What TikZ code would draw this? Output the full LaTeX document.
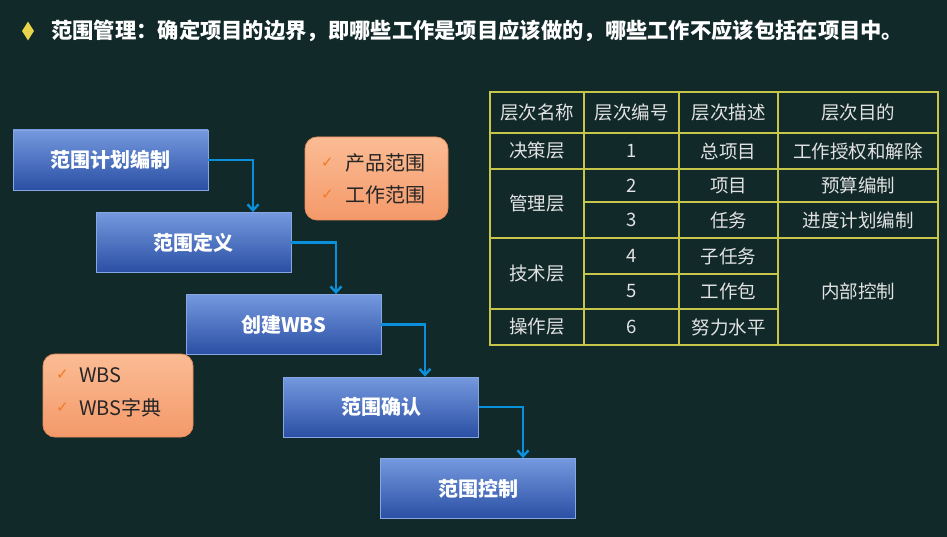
\documentclass[tikz,border=0pt]{standalone}
\usepackage{fontspec}
\setmainfont{Noto Sans CJK SC}
\newfontfamily\symfont{DejaVu Sans}
\usetikzlibrary{arrows.meta,shapes.geometric}
\definecolor{bg}{HTML}{12292A}
\definecolor{arrblue}{HTML}{0A90DA}
\definecolor{tline}{HTML}{C8C64A}
\definecolor{ttext}{HTML}{E2E2E2}
\definecolor{boxtop}{HTML}{7599DE}
\definecolor{boxbot}{HTML}{2A4FA4}
\definecolor{boxline}{HTML}{86A6E4}
\definecolor{ortop}{HTML}{FBBC94}
\definecolor{orbot}{HTML}{F4996A}
\definecolor{orline}{HTML}{E88C5C}
\definecolor{chk}{HTML}{F07A22}
\definecolor{diam}{HTML}{E8D44A}
\tikzset{
  stepbox/.style={draw=boxline, line width=0.8pt, top color=boxtop, bottom color=boxbot,
    minimum width=195pt, minimum height=60pt, inner sep=0pt,
    text=white, font=\fontsize{20}{24}\selectfont\bfseries},
  arr/.style={draw=arrblue, line width=2.6pt, -{Straight Barb[length=6pt,width=11pt,line width=2.4pt]}},
  notebox/.style={draw=orline, line width=0.8pt, top color=ortop, bottom color=orbot,
    rounded corners=12pt, inner sep=0pt},
  notetext/.style={anchor=west, inner sep=0pt, text=black!85, font=\fontsize{20}{24}\selectfont},
  chkmark/.style={anchor=west, inner sep=0pt, text=chk, font=\symfont\fontsize{15}{17}\selectfont},
  tcell/.style={inner sep=0pt, text=ttext, font=\fontsize{18.5}{22}\selectfont},
  tl/.style={draw=tline, line width=1.6pt}
}
\begin{document}
\begin{tikzpicture}[x=1pt,y=-1pt]
\fill[bg] (0,0) rectangle (947,537);
\useasboundingbox (0,0) rectangle (947,537);
% title
\node[diamond, fill=diam, minimum width=12pt, minimum height=19pt, inner sep=0pt] (dia) at (28,31) {};
\node[anchor=west, inner sep=0pt, text=white, font=\fontsize{21.3}{25}\selectfont\bfseries] (title) at (51,31)
  {范围管理：确定项目的边界，即哪些工作是项目应该做的，哪些工作不应该包括在项目中。};
% process boxes
\node[stepbox] (b1) at (110.5,160) {范围计划编制};
\node[stepbox] (b2) at (193.5,242.5) {范围定义};
\node[stepbox] (b3) at (283.5,324.5) {创建WBS};
\node[stepbox] (b4) at (381,407) {范围确认};
\node[stepbox] (b5) at (478,488.5) {范围控制};
\draw[arr] (b1.east) -| ([xshift=59.5pt]b2.north);
\draw[arr] (b2.east) -| ([xshift=52.5pt]b3.north);
\draw[arr] (b3.east) -| ([xshift=44pt]b4.north);
\draw[arr] (b4.east) -| ([xshift=45pt]b5.north);
% note boxes
\node[notebox, minimum width=143pt, minimum height=83pt] (n1) at (376.5,178.5) {};
\node[chkmark] (c1) at (321,163) {✓};
\node[notetext] (t1) at (345,163) {产品范围};
\node[chkmark] (c2) at (321,195) {✓};
\node[notetext] (t2) at (345,195) {工作范围};
\node[notebox, minimum width=150pt, minimum height=83pt] (n2) at (118,395.5) {};
\node[chkmark] (c3) at (56,375) {✓};
\node[notetext] (t3) at (79,375) {WBS};
\node[chkmark] (c4) at (56,408) {✓};
\node[notetext] (t4) at (79,408) {WBS字典};
% table
\draw[tl] (490,92) rectangle (938,345);
\draw[tl] (584,92) -- (584,345);
\draw[tl] (679,92) -- (679,345);
\draw[tl] (778,92) -- (778,345);
\draw[tl] (490,133) -- (938,133);
\draw[tl] (490,169) -- (938,169);
\draw[tl] (584,202) -- (938,202);
\draw[tl] (490,238) -- (938,238);
\draw[tl] (584,274) -- (778,274);
\draw[tl] (490,309) -- (778,309);
\node[tcell] (h1) at (537,112.5) {层次名称};
\node[tcell] (h2) at (631.5,112.5) {层次编号};
\node[tcell] (h3) at (728.5,112.5) {层次描述};
\node[tcell] (h4) at (858,112.5) {层次目的};
\node[tcell] (r1a) at (537,151) {决策层};
\node[tcell] (r1b) at (631.5,151) {1};
\node[tcell] (r1c) at (728.5,151) {总项目};
\node[tcell] (r1d) at (858,151) {工作授权和解除};
\node[tcell] (r2a) at (537,203.5) {管理层};
\node[tcell] (r2b) at (631.5,185.5) {2};
\node[tcell] (r2c) at (728.5,185.5) {项目};
\node[tcell] (r2d) at (858,185.5) {预算编制};
\node[tcell] (r3b) at (631.5,220) {3};
\node[tcell] (r3c) at (728.5,220) {任务};
\node[tcell] (r3d) at (858,220) {进度计划编制};
\node[tcell] (r4a) at (537,273.5) {技术层};
\node[tcell] (r4b) at (631.5,256) {4};
\node[tcell] (r4c) at (728.5,256) {子任务};
\node[tcell] (r4d) at (858,291.5) {内部控制};
\node[tcell] (r5b) at (631.5,291.5) {5};
\node[tcell] (r5c) at (728.5,291.5) {工作包};
\node[tcell] (r6a) at (537,327) {操作层};
\node[tcell] (r6b) at (631.5,327) {6};
\node[tcell] (r6c) at (728.5,327) {努力水平};
\end{tikzpicture}
\end{document}
